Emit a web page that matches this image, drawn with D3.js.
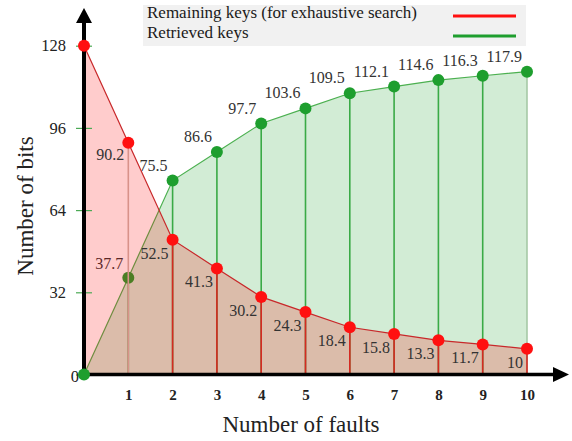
<!DOCTYPE html>
<html><head><meta charset="utf-8">
<script src="https://cdn.jsdelivr.net/npm/d3@7/dist/d3.min.js"></script>
<style>
body{margin:0;background:#fff;}
svg{display:block;font-family:"Liberation Serif","Times New Roman",serif;}
</style></head>
<body>
<svg id="c" width="572" height="441"></svg>
<script>
const faults = [0,1,2,3,4,5,6,7,8,9,10];
const remaining = [128,90.2,52.5,41.3,30.2,24.3,18.4,15.8,13.3,11.7,10];
const retrieved = [0,37.7,75.5,86.6,97.7,103.6,109.5,112.1,114.6,116.3,117.9];
const xTicks = [1,2,3,4,5,6,7,8,9,10];
const yTicks = [0,32,64,96,128];
const legendLabels = ["Remaining keys (for exhaustive search)","Retrieved keys"];
const xTitle = "Number of faults";
const yTitle = "Number of bits";

const FF = "Liberation Serif, Times New Roman, serif";
const svg = d3.select("#c");
const x = d3.scaleLinear().domain([0,10]).range([84,527]);
const y = d3.scaleLinear().domain([0,128]).range([374.5,45.7]);
const red = "#ff1010", green = "#1e9e2e";
const redData = faults.map((f,i)=>({f, v:remaining[i], i}));
const greenData = faults.map((f,i)=>({f, v:retrieved[i], r:remaining[i], i}));

const area = d3.area().x(d=>x(d.f)).y0(y(0)).y1(d=>y(d.v));
const line = d3.line().x(d=>x(d.f)).y(d=>y(d.v));

// legend
const lg = svg.append("g");
lg.append("rect").attr("x",143).attr("y",5).attr("width",383).attr("height",41).attr("fill","#f1f1f1");
lg.selectAll("text").data(legendLabels).join("text")
  .attr("x",147).attr("y",(d,i)=>18+i*19.5).attr("font-size",17).attr("font-family",FF).attr("fill","#1a1a1a").text(d=>d);
lg.selectAll("line").data([red,green]).join("line")
  .attr("x1",453).attr("x2",516).attr("y1",(d,i)=>16+i*20).attr("y2",(d,i)=>16+i*20)
  .attr("stroke",d=>d).attr("stroke-width",3);

// green layer
svg.append("path").datum(greenData).attr("d",area).attr("fill","rgba(30,160,45,0.2)");
svg.append("path").datum(greenData).attr("d",line).attr("fill","none").attr("stroke","#4cb050").attr("stroke-width",1.2);
svg.selectAll(".gdrop").data(greenData.filter(d=>d.v>0)).join("line").attr("class","gdrop")
  .attr("x1",d=>x(d.f)).attr("x2",d=>x(d.f)).attr("y1",d=>y(d.v)).attr("y2",y(0))
  .attr("stroke",d=>d.f===10?"#a6c9a6":"#3aaa46").attr("stroke-width",1.6);
svg.selectAll(".gptU").data(greenData.filter(d=>d.v>0 && d.v<d.r)).join("circle").attr("class","gptU")
  .attr("cx",d=>x(d.f)).attr("cy",d=>y(d.v)).attr("r",6).attr("fill",green);
svg.selectAll(".glabU").data(greenData.filter(d=>d.v>0 && d.v<d.r)).join("text").attr("class","glabU")
  .attr("x",d=>x(d.f)-5).attr("y",d=>y(d.v)-9).attr("text-anchor","end").attr("font-size",16).attr("font-family",FF).attr("fill","#333").text(d=>d.v);

// red layer
svg.append("path").datum(redData).attr("d",area).attr("fill","rgba(255,0,0,0.2)");
svg.append("path").datum(redData).attr("d",line).attr("fill","none").attr("stroke","#c8282a").attr("stroke-width",1.2);
svg.selectAll(".rdrop").data(redData.filter(d=>d.f>0)).join("line").attr("class","rdrop")
  .attr("x1",d=>x(d.f)).attr("x2",d=>x(d.f)).attr("y1",d=>y(d.v)).attr("y2",y(0))
  .attr("stroke",d=>d.f===1?"#d8928a":"#d42a22").attr("stroke-width",1.6);

// green points/labels above red fill
const gTop = greenData.filter(d=>!(d.v>0 && d.v<d.r));
svg.selectAll(".gptT").data(gTop.filter(d=>d.v>0)).join("circle").attr("class","gptT")
  .attr("cx",d=>x(d.f)).attr("cy",d=>y(d.v)).attr("r",6).attr("fill",green);
svg.selectAll(".glabT").data(gTop.filter(d=>d.v>0)).join("text").attr("class","glabT")
  .attr("x",d=>x(d.f)-5).attr("y",d=>y(d.v)-10).attr("text-anchor","end").attr("font-size",16).attr("font-family",FF).attr("fill","#333").text(d=>d.v);

// axes
const yAxis = svg.append("g").attr("transform","translate(92,0)")
  .call(d3.axisLeft(y).tickValues(yTicks).tickSize(16).tickPadding(10).tickFormat(d3.format("d")));
yAxis.select(".domain").remove();
yAxis.selectAll(".tick line").attr("stroke","#4caa55").attr("stroke-width",1.2);
yAxis.selectAll(".tick text").attr("font-size",16.5).attr("fill","#222").attr("font-family",FF);
yAxis.selectAll(".tick").filter(d=>d===0).select("text").attr("x",-13).attr("dy","0.4em");

svg.append("line").attr("x1",84).attr("x2",84).attr("y1",376.5).attr("y2",22).attr("stroke","#000").attr("stroke-width",4);
svg.append("path").attr("d","M84,8 L76,23 L92,23 Z").attr("fill","#000");
svg.append("line").attr("x1",82).attr("x2",554).attr("y1",374.5).attr("y2",374.5).attr("stroke","#000").attr("stroke-width",3.5);
svg.append("path").attr("d","M569,374.5 L553,367 L553,382 Z").attr("fill","#000");

const xAxis = svg.append("g").attr("transform",`translate(0,${y(0)})`)
  .call(d3.axisBottom(x).tickValues(xTicks).tickSize(0).tickPadding(15));
xAxis.select(".domain").remove();
xAxis.selectAll(".tick text").attr("font-size",15).attr("font-weight","bold").attr("fill","#222").attr("font-family",FF);

// red points & labels
svg.selectAll(".rpt").data(redData).join("circle").attr("class","rpt")
  .attr("cx",d=>x(d.f)).attr("cy",d=>y(d.v)).attr("r",6).attr("fill",red);
svg.selectAll(".rlab").data(redData.filter(d=>d.f>0)).join("text").attr("class","rlab")
  .attr("x",d=>x(d.f)-4).attr("y",d=>y(d.v)+(d.f===1?17:19)).attr("text-anchor","end").attr("font-size",16).attr("font-family",FF).attr("fill","#333").text(d=>d.v);

// origin green point on top
svg.selectAll(".gpt0").data(greenData.filter(d=>d.v===0)).join("circle").attr("class","gpt0")
  .attr("cx",d=>x(d.f)).attr("cy",d=>y(d.v)).attr("r",6).attr("fill",green);

// titles
svg.append("text").attr("x",301).attr("y",432).attr("text-anchor","middle").attr("font-size",23).attr("font-family",FF).attr("fill","#222").text(xTitle);
svg.append("text").attr("transform","translate(33,206) rotate(-90)").attr("text-anchor","middle").attr("font-size",23).attr("font-family",FF).attr("fill","#222").text(yTitle);
</script>
</body></html>
